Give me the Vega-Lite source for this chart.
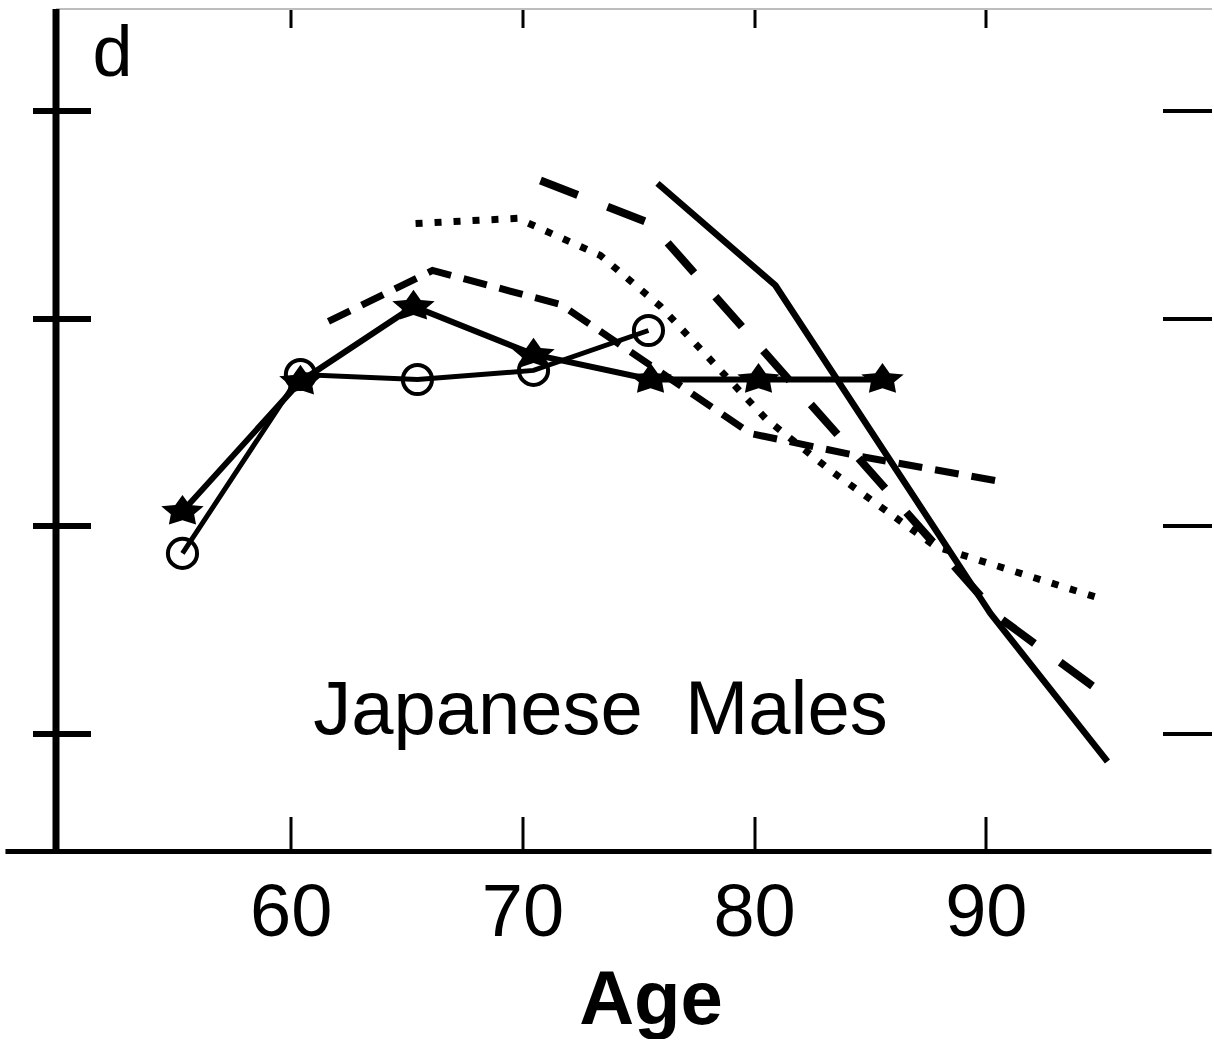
{
  "$schema": "https://vega.github.io/schema/vega-lite/v6.json",
  "width": 1156,
  "height": 843,
  "autosize": {"type": "pad"},
  "padding": {"left": 2.5, "top": 6.5, "right": 0, "bottom": 0},
  "background": "white",
  "config": {
    "view": {"stroke": null},
    "font": "Liberation Sans",
    "axis": {"grid": false, "domainColor": "black", "tickColor": "black", "labelColor": "black", "titleColor": "black"}
  },
  "datasets": {
    "curves": [
      {"curve": "stars", "age": 55.33, "rate": 2.069},
      {"curve": "stars", "age": 60.42, "rate": 2.695},
      {"curve": "stars", "age": 65.30, "rate": 3.056},
      {"curve": "stars", "age": 70.48, "rate": 2.825},
      {"curve": "stars", "age": 75.53, "rate": 2.704},
      {"curve": "stars", "age": 80.19, "rate": 2.704},
      {"curve": "stars", "age": 85.54, "rate": 2.704},
      {"curve": "circles", "age": 55.33, "rate": 1.867},
      {"curve": "circles", "age": 60.42, "rate": 2.728},
      {"curve": "circles", "age": 65.47, "rate": 2.704},
      {"curve": "circles", "age": 70.48, "rate": 2.748},
      {"curve": "circles", "age": 75.44, "rate": 2.940},
      {"curve": "dashed", "age": 61.63, "rate": 2.984},
      {"curve": "dashed", "age": 66.12, "rate": 3.229},
      {"curve": "dashed", "age": 71.65, "rate": 3.065},
      {"curve": "dashed", "age": 76.48, "rate": 2.700},
      {"curve": "dashed", "age": 79.85, "rate": 2.444},
      {"curve": "dashed", "age": 84.59, "rate": 2.334},
      {"curve": "dashed", "age": 90.63, "rate": 2.213},
      {"curve": "dotted", "age": 65.39, "rate": 3.455},
      {"curve": "dotted", "age": 69.79, "rate": 3.480},
      {"curve": "dotted", "age": 73.37, "rate": 3.301},
      {"curve": "dotted", "age": 75.96, "rate": 3.056},
      {"curve": "dotted", "age": 78.47, "rate": 2.757},
      {"curve": "dotted", "age": 80.49, "rate": 2.517},
      {"curve": "dotted", "age": 83.30, "rate": 2.266},
      {"curve": "dotted", "age": 87.83, "rate": 1.900},
      {"curve": "dotted", "age": 95.08, "rate": 1.645},
      {"curve": "long-dashed", "age": 70.78, "rate": 3.662},
      {"curve": "long-dashed", "age": 75.53, "rate": 3.455},
      {"curve": "long-dashed", "age": 90.63, "rate": 1.554},
      {"curve": "long-dashed", "age": 95.04, "rate": 1.193},
      {"curve": "solid", "age": 75.83, "rate": 3.648},
      {"curve": "solid", "age": 80.92, "rate": 3.157},
      {"curve": "solid", "age": 90.20, "rate": 1.578},
      {"curve": "solid", "age": 95.25, "rate": 0.865}
    ],
    "notes": [
      {"kind": "panel", "text": "d"},
      {"kind": "caption", "text": "Japanese\u00a0\u00a0Males"}
    ]
  },
  "resolve": {"axis": {"x": "independent", "y": "independent"}},
  "layer": [
    {
      "data": {"values": [{}]},
      "mark": {"type": "rule", "color": "black", "strokeWidth": 5},
      "encoding": {
        "x": {"datum": 47.69, "type": "quantitative", "scale": {"domain": [49.85, 99.74]}, "axis": null},
        "x2": {"datum": 99.74},
        "y": {"datum": 0.432, "type": "quantitative", "scale": {"domain": [0.432, 4.49]}, "axis": null}
      }
    },
    {
      "data": {"name": "curves"},
      "transform": [{"filter": "datum.curve === 'solid'"}],
      "mark": {"type": "line", "color": "black", "strokeWidth": 6.5},
      "encoding": {
        "x": {
          "field": "age", "type": "quantitative", "scale": {"domain": [49.85, 99.74]},
          "axis": {
            "orient": "bottom", "values": [60, 70, 80, 90], "domain": false,
            "tickSize": -35, "tickWidth": 3,
            "labelFontSize": 74, "labelBaseline": "alphabetic", "labelPadding": 119,
            "title": "Age", "titleFontSize": 76, "titleFontWeight": "bold",
            "titleX": 595, "titleY": 172, "titleBaseline": "alphabetic"
          }
        },
        "y": {
          "field": "rate", "type": "quantitative", "scale": {"domain": [0.432, 4.49]},
          "axis": {
            "orient": "left", "values": [1, 2, 3, 4], "labels": false, "title": null,
            "domainWidth": 7, "tickSize": 23, "tickWidth": 6
          }
        }
      }
    },
    {
      "data": {"name": "curves"},
      "transform": [{"filter": "datum.curve === 'dotted'"}],
      "mark": {"type": "line", "color": "black", "strokeWidth": 7, "strokeDash": [7, 12]},
      "encoding": {
        "x": {
          "field": "age", "type": "quantitative", "scale": {"domain": [49.85, 99.74]},
          "axis": {
            "orient": "top", "values": [60, 70, 80, 90], "labels": false, "title": null,
            "domainColor": "#bdbdbd", "domainWidth": 2, "tickSize": -19, "tickWidth": 3
          }
        },
        "y": {
          "field": "rate", "type": "quantitative", "scale": {"domain": [0.432, 4.49]},
          "axis": {
            "orient": "left", "values": [1, 2, 3, 4], "labels": false, "title": null,
            "domain": false, "tickSize": -35, "tickWidth": 6
          }
        }
      }
    },
    {
      "data": {"name": "curves"},
      "transform": [{"filter": "datum.curve === 'long-dashed'"}],
      "mark": {"type": "line", "color": "black", "strokeWidth": 8, "strokeDash": [40, 32]},
      "encoding": {
        "x": {"field": "age", "type": "quantitative", "scale": {"domain": [49.85, 99.74]}, "axis": null},
        "y": {
          "field": "rate", "type": "quantitative", "scale": {"domain": [0.432, 4.49]},
          "axis": {
            "orient": "right", "values": [1, 2, 3, 4], "labels": false, "title": null,
            "domain": false, "tickSize": -49, "tickWidth": 4
          }
        }
      }
    },
    {
      "data": {"name": "curves"},
      "transform": [{"filter": "datum.curve === 'dashed'"}],
      "mark": {"type": "line", "color": "black", "strokeWidth": 7, "strokeDash": [24, 13]},
      "encoding": {
        "x": {"field": "age", "type": "quantitative", "scale": {"domain": [49.85, 99.74]}, "axis": null},
        "y": {"field": "rate", "type": "quantitative", "scale": {"domain": [0.432, 4.49]}, "axis": null}
      }
    },
    {
      "data": {"name": "curves"},
      "transform": [{"filter": "datum.curve === 'circles'"}],
      "mark": {"type": "line", "color": "black", "strokeWidth": 5},
      "encoding": {
        "x": {"field": "age", "type": "quantitative", "scale": {"domain": [49.85, 99.74]}, "axis": null},
        "y": {"field": "rate", "type": "quantitative", "scale": {"domain": [0.432, 4.49]}, "axis": null}
      }
    },
    {
      "data": {"name": "curves"},
      "transform": [{"filter": "datum.curve === 'circles'"}],
      "mark": {"type": "point", "shape": "circle", "filled": false, "color": "black", "strokeWidth": 4, "size": 850, "opacity": 1},
      "encoding": {
        "x": {"field": "age", "type": "quantitative", "scale": {"domain": [49.85, 99.74]}, "axis": null},
        "y": {"field": "rate", "type": "quantitative", "scale": {"domain": [0.432, 4.49]}, "axis": null}
      }
    },
    {
      "data": {"name": "curves"},
      "transform": [{"filter": "datum.curve === 'stars'"}],
      "mark": {"type": "line", "color": "black", "strokeWidth": 6},
      "encoding": {
        "x": {"field": "age", "type": "quantitative", "scale": {"domain": [49.85, 99.74]}, "axis": null},
        "y": {"field": "rate", "type": "quantitative", "scale": {"domain": [0.432, 4.49]}, "axis": null}
      }
    },
    {
      "data": {"name": "curves"},
      "transform": [{"filter": "datum.curve === 'stars'"}],
      "mark": {
        "type": "point", "filled": true, "color": "black", "size": 1800, "opacity": 1, "strokeWidth": 0,
        "shape": "M0,-0.78L0.34,-0.3L1,-0.24L0.55,0.13L0.64,0.62L0,0.41L-0.64,0.62L-0.55,0.13L-1,-0.24L-0.34,-0.3Z"
      },
      "encoding": {
        "x": {"field": "age", "type": "quantitative", "scale": {"domain": [49.85, 99.74]}, "axis": null},
        "y": {"field": "rate", "type": "quantitative", "scale": {"domain": [0.432, 4.49]}, "axis": null}
      }
    },
    {
      "data": {"name": "notes"},
      "transform": [{"filter": "datum.kind === 'caption'"}],
      "mark": {"type": "text", "fontSize": 76, "align": "center", "baseline": "alphabetic", "fill": "black"},
      "encoding": {
        "text": {"field": "text", "type": "nominal"},
        "x": {"datum": 73.37, "type": "quantitative", "scale": {"domain": [49.85, 99.74]}, "axis": null},
        "y": {"datum": 1.0, "type": "quantitative", "scale": {"domain": [0.432, 4.49]}, "axis": null}
      }
    },
    {
      "data": {"name": "notes"},
      "transform": [{"filter": "datum.kind === 'panel'"}],
      "mark": {"type": "text", "fontSize": 72, "align": "left", "baseline": "alphabetic", "fill": "black"},
      "encoding": {
        "text": {"field": "text", "type": "nominal"},
        "x": {"datum": 51.45, "type": "quantitative", "scale": {"domain": [49.85, 99.74]}, "axis": null},
        "y": {"datum": 4.163, "type": "quantitative", "scale": {"domain": [0.432, 4.49]}, "axis": null}
      }
    }
  ]
}
